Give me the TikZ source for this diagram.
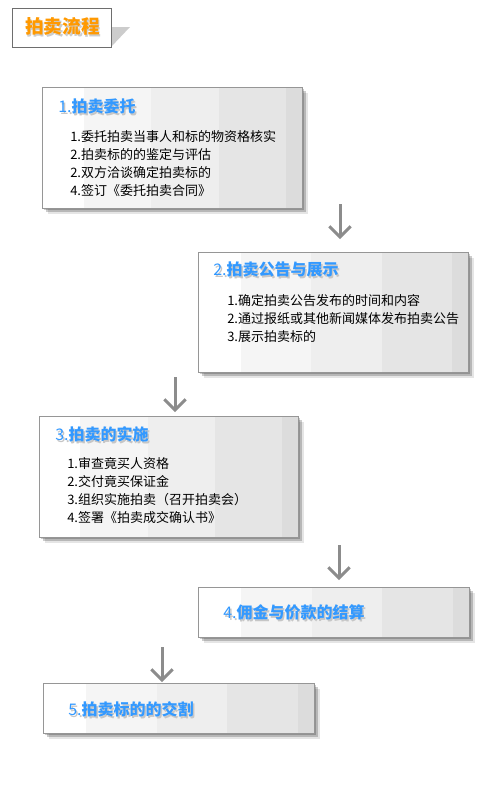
\documentclass[tikz,border=0pt]{standalone}
\usepackage{fontspec}
\setmainfont{Noto Sans CJK SC}
\usepackage{tikz}
\usetikzlibrary{arrows.meta, positioning, calc}

\definecolor{headblue}{RGB}{51,153,255}
\definecolor{titleorange}{RGB}{255,153,0}
\definecolor{framegray}{RGB}{150,150,150}
\definecolor{arrowgray}{RGB}{140,140,140}
\definecolor{stripeA}{RGB}{245,245,245}
\definecolor{stripeB}{RGB}{238,238,238}
\definecolor{stripeC}{RGB}{229,229,229}
\definecolor{stripeD}{RGB}{220,220,220}

\begin{document}
\begin{tikzpicture}[x=0.75pt, y=-0.75pt,
    headtext/.style={anchor=west, inner sep=0pt, text=headblue, font=\fontsize{12}{14}\selectfont\bfseries},
    headshade/.style={headtext, text=gray!45},
    item/.style={anchor=west, inner sep=0pt, font=\fontsize{9.75}{12}\selectfont},
    flowarrow/.style={draw=arrowgray, line width=2.25pt, -{Straight Barb[length=8pt, width=16pt]}}]
    \useasboundingbox (0,0) rectangle (500,800);

    % Title tab
    \fill[gray!40] (111,27) -- (130,27) -- (111,47) -- cycle;
    \draw[draw={rgb,255:red,110;green,110;blue,110}, fill=white] (12,8) rectangle (111,47);
    \node[anchor=west, inner sep=0pt, text=gray!40, font=\fontsize{14}{16}\selectfont\bfseries] (titleshade) at (26.5,28) {拍卖流程};
    \node[anchor=west, inner sep=0pt, text=titleorange, font=\fontsize{14}{16}\selectfont\bfseries] (title) at (25,26) {拍卖流程};

    % Panels: number / left / top / right / bottom
    \foreach \n/\xa/\ya/\xb/\yb in {1/42/87/302/208, 2/198/252/468/372, 3/39/416/298/537, 4/198/587/469/637, 5/43/683/314/733} {
        % soft shadow
        \foreach \s/\o in {2/0.2, 4/0.2, 6/0.1}
            \fill[black, opacity=\o] ({\xa+\s},{\ya+\s}) rectangle ({\xb+\s},{\yb+\s});
        % striped background
        \fill[white] (\xa,\ya) rectangle (\xb,\yb);
        \foreach \f/\c in {0.16/stripeA, 0.42/stripeB, 0.68/stripeC, 0.94/stripeD}
            \fill[\c] ({\xa+\f*(\xb-\xa)},\ya) rectangle (\xb,\yb);
        \draw[framegray, line width=0.75pt] (\xa,\ya) rectangle (\xb,\yb);
        \coordinate (box\n) at (\xa,\ya);
    }

    % Headings
    \foreach \n/\x/\y/\t in {1/58/106/拍卖委托, 2/213/269/拍卖公告与展示, 3/55/434/拍卖的实施, 4/223/612/佣金与价款的结算, 5/68/709/拍卖标的的交割} {
        \node[headshade] (hs\n) at ({\x+1.5},{\y+2}) {{\mdseries\n.}\t};
        \node[headtext] (h\n) at (\x,\y) {{\mdseries\n.}\t};
    }

    % Items
    \foreach \t [count=\i] in {1.委托拍卖当事人和标的物资格核实, 2.拍卖标的的鉴定与评估, 2.双方洽谈确定拍卖标的, 4.签订《委托拍卖合同》}
        \node[item] (b1-\i) at (70, {137+(\i-1)*17.7}) {\t};
    \foreach \t [count=\i] in {1.确定拍卖公告发布的时间和内容, 2.通过报纸或其他新闻媒体发布拍卖公告, 3.展示拍卖标的}
        \node[item] (b2-\i) at (227, {301+(\i-1)*18}) {\t};
    \foreach \t [count=\i] in {1.审查竟买人资格, 2.交付竟买保证金, 3.组织实施拍卖（召开拍卖会）, 4.签署《拍卖成交确认书》}
        \node[item] (b3-\i) at (67, {464+(\i-1)*18}) {\t};

    % Arrows
    \coordinate (a1s) at (340,204);
    \coordinate (a1e) at (340,239);
    \coordinate (a2s) at (175,377);
    \coordinate (a2e) at (175,412);
    \coordinate (a3s) at (339,545);
    \coordinate (a3e) at (339,580);
    \coordinate (a4s) at (162,647);
    \coordinate (a4e) at (162,682);
    \foreach \k in {1,...,4}
        \draw[flowarrow] (a\k s) -- (a\k e);
\end{tikzpicture}
\end{document}
